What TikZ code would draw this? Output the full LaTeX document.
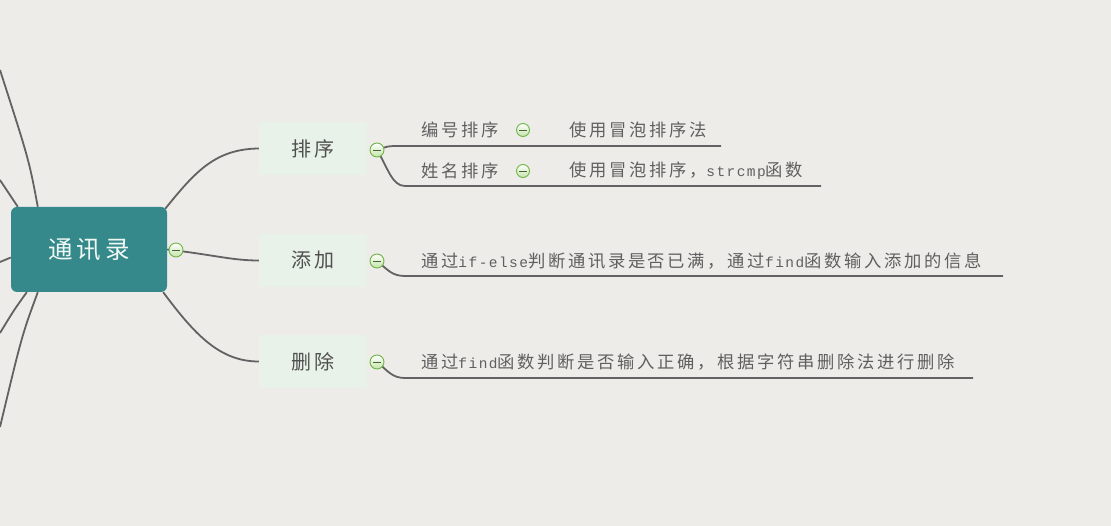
\documentclass[tikz,border=0pt]{standalone}
\usepackage{fontspec}
\usetikzlibrary{backgrounds}
\newfontfamily\cjk{Noto Sans CJK SC}[LetterSpace=15.5]
\newfontfamily\monofont{Liberation Mono}[LetterSpace=10]
\newcommand{\lat}[1]{{\monofont\fontsize{14.5pt}{17pt}\selectfont #1}}
\definecolor{bgcol}{RGB}{237,236,233}
\definecolor{rootcol}{RGB}{54,137,138}
\definecolor{roottxt}{RGB}{240,248,246}
\definecolor{subbg}{RGB}{232,242,232}
\definecolor{conncol}{RGB}{98,98,98}
\definecolor{togline}{RGB}{110,180,70}
\definecolor{toggreen}{RGB}{196,228,170}
\definecolor{togdash}{RGB}{70,100,50}
\definecolor{subtxt}{RGB}{80,80,80}
\definecolor{leaftxt}{RGB}{95,95,95}
\tikzset{
  conn/.style={draw=conncol, line width=1.8pt},
  rootbox/.style={rounded corners=6pt, fill=rootcol, minimum width=156pt, minimum height=85pt,
    inner sep=0pt, text=roottxt, font=\cjk\fontsize{24.5pt}{24.5pt}\selectfont},
  subbox/.style={fill=subbg, minimum width=108pt, minimum height=53pt, inner sep=0pt,
    text=subtxt, font=\cjk\fontsize{20pt}{20pt}\selectfont},
  leaf/.style={anchor=west, inner sep=0pt, text=leaftxt, font=\cjk\fontsize{17.3pt}{17.3pt}\selectfont},
  tog/.style={circle, draw=togline, line width=0.9pt, minimum size=14pt, inner sep=0pt,
    top color=white, bottom color=toggreen,
    path picture={\draw[line width=0.9pt, togdash]
      ([xshift=-4pt]path picture bounding box.center) -- ([xshift=4pt]path picture bounding box.center);}},
  smalltog/.style={tog, minimum size=13pt}
}
\begin{document}
\begin{tikzpicture}[x=1pt,y=-1pt]
\path[use as bounding box] (0,0) rectangle (1111,526);

% main nodes
\node[rootbox] (root) at (89,249.5) {通讯录};
\node[subbox] (s1) at (313,148.5) {排序};
\node[subbox] (s2) at (313,260.5) {添加};
\node[subbox] (s3) at (313,361.5) {删除};

% leaves
\node[leaf] (l1) at (421,130) {编号排序};
\node[leaf] (l11) at (569,130) {使用冒泡排序法};
\node[leaf] (l2) at (421,171) {姓名排序};
\node[leaf] (l21) at (569,171) {使用冒泡排序，\lat{strcmp}函数};
\node[leaf] (l3) at (421,261) {通过\lat{if-else}判断通讯录是否已满，通过\lat{find}函数输入添加的信息};
\node[leaf] (l4) at (421,362) {通过\lat{find}函数判断是否输入正确，根据字符串删除法进行删除};

% toggles
\node[tog] (c0) at (176,250) {};
\node[tog] (c1) at (377,150) {};
\node[tog] (c2) at (377,261) {};
\node[tog] (c3) at (377,362) {};
\node[smalltog] (c11) at (523,130) {};
\node[smalltog] (c12) at (523,171) {};

% free ends
\coordinate (w1) at (0,70);
\coordinate (w2) at (0,180);
\coordinate (w3) at (0,262);
\coordinate (w4) at (0,333);
\coordinate (w5) at (0,427);
\coordinate (u1) at (721,146);
\coordinate (u2) at (821,186);
\coordinate (u3) at (1003,276);
\coordinate (u4) at (973,378);

\begin{scope}[on background layer]
\fill[bgcol] (0,0) rectangle (1111,526);
% left branches (off canvas)
\draw[conn] ([xshift=27pt]root.north west) .. controls (29,160) .. (w1);
\draw[conn] ([xshift=7pt]root.north west) -- (w2);
\draw[conn] ([yshift=-8pt]root.west) -- (w3);
\draw[conn] ([xshift=16pt]root.south west) .. controls (14,310) .. (w4);
\draw[conn] ([xshift=27pt]root.south west) .. controls (22,335) .. (w5);
% right branches
\draw[conn] ([shift={(-2,2)}]root.north east) .. controls (195,172) and (215,149) .. (s1.west);
\draw[conn] (root.east) .. controls (215,255) and (232,260.5) .. (s2.west);
\draw[conn] ([shift={(-4,0)}]root.south east) .. controls (195,335) and (220,361.5) .. (s3.west);
% leaf connectors with underlines
\draw[conn] (c1.center) .. controls (388,146) .. (400,146) -- (u1);
\draw[conn] (c1.center) .. controls (388,168) and (392,186) .. (405,186) -- (u2);
\draw[conn] (c2.center) .. controls (388,270) and (392,276) .. (405,276) -- (u3);
\draw[conn] (c3.center) .. controls (388,371) and (392,378) .. (405,378) -- (u4);
\end{scope}
\end{tikzpicture}
\end{document}
